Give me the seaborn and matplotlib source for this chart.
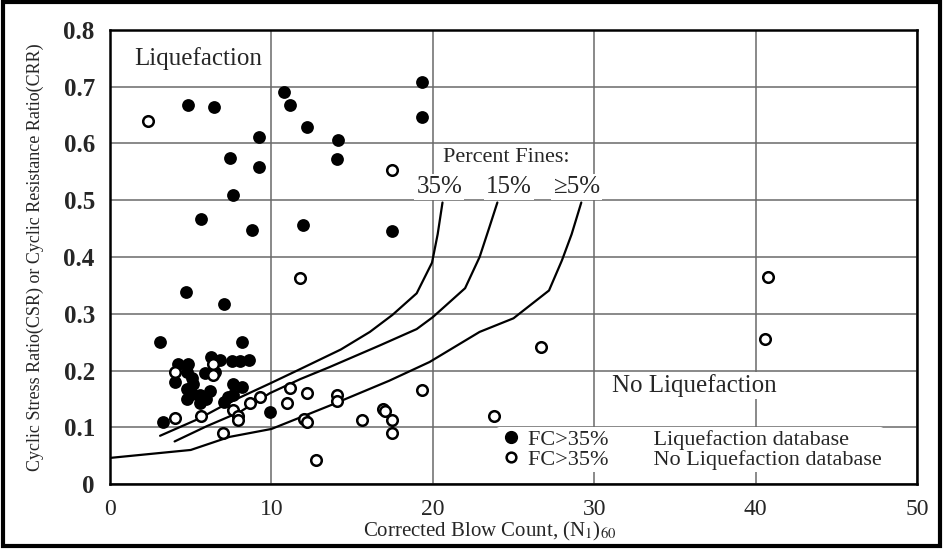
import numpy as np
import pandas as pd
import seaborn as sns
import matplotlib.pyplot as plt
from matplotlib.patches import Rectangle
from matplotlib.lines import Line2D

# ---------------- data ----------------
liq_n = [4.81, 6.44, 9.25, 10.8, 11.17, 12.2, 14.1, 14.07, 7.43, 9.25, 7.64, 5.64, 8.78,
         11.94, 4.73, 7.08, 19.3, 19.3, 17.5,
         3.1, 8.16, 6.26, 6.8, 7.54, 8.05, 8.61, 4.23, 4.85, 4.75, 5.89, 6.5, 5.06, 4.03,
         5.16, 7.64, 8.16, 4.75, 5.06, 6.2, 5.58, 5.96, 4.75, 5.58, 7.33, 7.64, 7.08, 3.3, 9.9]
liq_csr = [0.668, 0.665, 0.611, 0.690, 0.668, 0.629, 0.607, 0.572, 0.574, 0.558, 0.510, 0.467, 0.447,
           0.456, 0.339, 0.317, 0.709, 0.647, 0.446,
           0.250, 0.250, 0.223, 0.219, 0.217, 0.217, 0.219, 0.211, 0.211, 0.197, 0.195, 0.197, 0.186, 0.180,
           0.177, 0.177, 0.171, 0.168, 0.159, 0.164, 0.156, 0.150, 0.149, 0.143, 0.153, 0.157, 0.144, 0.109, 0.127]

noliq_n = [2.37, 11.8, 17.5, 40.8, 40.6, 26.7,
           11.15, 12.2, 9.27, 8.7, 10.95, 14.05, 14.08, 19.3, 16.93, 17.05, 17.5, 15.6, 12.0, 12.2,
           17.5, 12.76, 23.8,
           6.4, 4.03, 6.4, 4.03, 5.64, 7.6, 7.95, 7.9, 7.02]
noliq_csr = [0.639, 0.363, 0.554, 0.365, 0.256, 0.241,
             0.170, 0.161, 0.153, 0.142, 0.142, 0.156, 0.146, 0.165, 0.132, 0.128, 0.113, 0.112, 0.115, 0.109,
             0.090, 0.042, 0.119,
             0.211, 0.197, 0.192, 0.117, 0.119, 0.130, 0.119, 0.113, 0.090]

# boundary curves (percent fines)
fc35_n = [3.1, 5.5, 7.4, 9.9, 11.6, 14.3, 16.1, 17.5, 19.0, 19.95, 20.3, 20.6]
fc35_csr = [0.085, 0.115, 0.144, 0.177, 0.200, 0.237, 0.268, 0.298, 0.336, 0.390, 0.440, 0.496]
fc15_n = [4.0, 6.0, 8.05, 9.9, 11.8, 13.6, 16.7, 19.0, 20.0, 22.0, 22.9, 23.5, 24.0]
fc15_csr = [0.075, 0.102, 0.127, 0.160, 0.185, 0.206, 0.244, 0.273, 0.294, 0.345, 0.400, 0.452, 0.496]
fc5_n = [0.0, 5.0, 7.4, 10.0, 13.6, 17.3, 19.8, 22.9, 25.0, 27.2, 28.0, 28.6, 29.2]
fc5_csr = [0.046, 0.060, 0.083, 0.097, 0.138, 0.182, 0.215, 0.268, 0.292, 0.341, 0.394, 0.440, 0.496]

x_ticks = [0, 10, 20, 30, 40, 50]
y_ticks = [0, 0.1, 0.2, 0.3, 0.4, 0.5, 0.6, 0.7, 0.8]
y_tick_labels = ["0", "0.1", "0.2", "0.3", "0.4", "0.5", "0.6", "0.7", "0.8"]

# ---------------- plot ----------------
sns.set_theme(style="white")
plt.rcParams["font.family"] = ["Liberation Serif", "DejaVu Serif"]
plt.rcParams["mathtext.fontset"] = "stix"

fig = plt.figure(figsize=(9.43, 5.55), dpi=100)
ax = fig.add_axes([0.1167, 0.1279, 0.9724 - 0.1167, 0.946 - 0.1279])

ax.set_xlim(0, 50)
ax.set_ylim(0, 0.8)
ax.set_xticks(x_ticks)
ax.set_yticks(y_ticks)
ax.set_yticklabels(y_tick_labels)
ax.grid(True, color="#6a6a6a", linewidth=1.1)
ax.set_axisbelow(True)
for s in ax.spines.values():
    s.set_color("black")
    s.set_linewidth(1.8)
ax.tick_params(axis="both", length=0)
ax.tick_params(axis="x", labelsize=17, pad=11)
ax.tick_params(axis="y", labelsize=18, pad=11)
for lbl in ax.get_yticklabels():
    lbl.set_fontweight("bold")

# curves
for cn, cc in [(fc35_n, fc35_csr), (fc15_n, fc15_csr), (fc5_n, fc5_csr)]:
    sns.lineplot(x=cn, y=cc, sort=False, estimator=None, color="black",
                 linewidth=1.6, ax=ax, legend=False)

# points
liq_df = pd.DataFrame({"N": liq_n, "CSR": liq_csr})
noliq_df = pd.DataFrame({"N": noliq_n, "CSR": noliq_csr})
sns.scatterplot(data=liq_df, x="N", y="CSR", color="black", s=85, linewidth=0,
                ax=ax, legend=False, zorder=3)
sns.scatterplot(data=noliq_df, x="N", y="CSR", color="white", edgecolor="black",
                s=58, linewidth=1.8, ax=ax, legend=False, zorder=4)

ax.set_xlabel(r"Corrected Blow Count, (N$_1$)$_{60}$", fontsize=15)
ax.xaxis.set_label_coords(0.471, -0.079)
ax.set_ylabel("Cyclic Stress Ratio(CSR) or Cyclic Resistance Ratio(CRR)", fontsize=13, labelpad=14)

# annotations
box = dict(facecolor="white", edgecolor="none", pad=1.5)
ax.text(1.5, 0.750, "Liquefaction", fontsize=18, va="center", ha="left", bbox=box)
ax.text(31.1, 0.174, "No Liquefaction", fontsize=18, va="center", ha="left", bbox=box, zorder=5)
ax.text(20.6, 0.576, "Percent Fines:", fontsize=16, va="center", ha="left")
for xc, t in [(20.4, "35%"), (24.7, "15%"), (28.9, "\u22655%")]:
    ax.text(xc, 0.524, t, fontsize=18, va="center", ha="center", bbox=box, zorder=5)

handles = [
    Line2D([], [], marker="o", linestyle="none", markerfacecolor="black",
           markeredgecolor="black", markersize=8.5),
    Line2D([], [], marker="o", linestyle="none", markerfacecolor="white",
           markeredgecolor="black", markeredgewidth=1.8, markersize=7),
]
labels = ["FC>35%        Liquefaction database", "FC>35%        No Liquefaction database"]
leg = ax.legend(handles, labels, loc="upper left", bbox_to_anchor=(0.478, 0.126),
                frameon=True, fontsize=16, handletextpad=0.15, borderpad=0.1,
                labelspacing=0.0, handlelength=1.2, borderaxespad=0)
leg.get_frame().set_facecolor("white")
leg.get_frame().set_edgecolor("none")
leg.get_frame().set_alpha(1)
leg.set_zorder(6)

fig.patches.append(Rectangle((0.003, 0.016), 0.994, 0.98, transform=fig.transFigure,
                             fill=False, linewidth=3, edgecolor="black"))

fig.savefig("out.png", dpi=100)
